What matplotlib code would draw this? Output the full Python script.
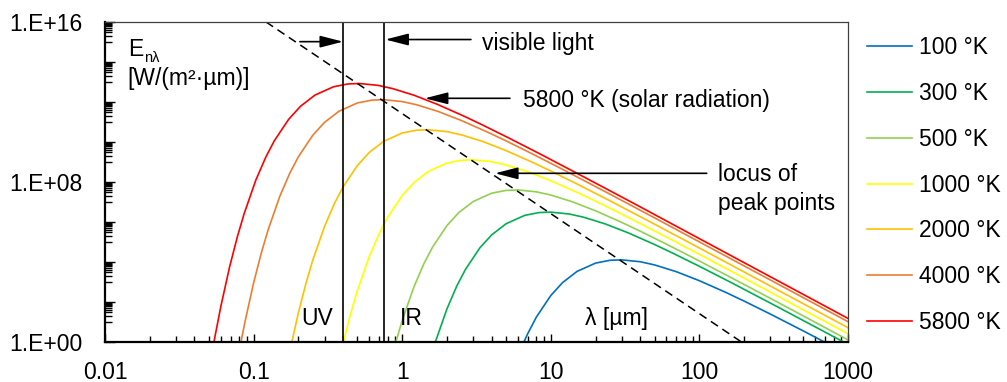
import numpy as np
import matplotlib
matplotlib.use("Agg")
import matplotlib.pyplot as plt
from matplotlib.ticker import LogLocator, NullFormatter, FixedLocator

plt.rcParams['font.family'] = ['Liberation Sans', 'DejaVu Sans']

# ---------------- data ----------------
temps = ['100 °K', '300 °K', '500 °K', '1000 °K', '2000 °K', '4000 °K', '5800 °K']
colors = ['#0070C0', '#00B050', '#92D050', '#FFFF00', '#FFC000', '#ED7D31', '#FF0000']

lam_100 = [6.59, 7.0, 8.0, 10, 12, 15, 20, 25, 30, 40, 50, 70, 100, 150, 200, 300, 500, 1000]
E_100 = [1.0, 2.64, 17.7, 211, 933, 3.37e3, 8.79e3, 1.22e4, 1.28e4, 1.03e4, 7.13e3, 3.27e3,
         1.16e3, 306, 111, 25.0, 3.59, 0.242]

lam_300 = [1.672, 2.0, 2.333, 2.667, 3.333, 4.0, 5.0, 6.667, 8.333, 10, 13.33, 16.67, 23.33,
           33.33, 50, 66.67, 100, 166.7, 333.3, 666.7, 1000]
E_300 = [1.0, 45.1, 643, 4.30e3, 5.13e4, 2.27e5, 8.18e5, 2.14e6, 2.96e6, 3.12e6, 2.51e6, 1.73e6,
         7.96e5, 2.83e5, 7.45e4, 2.70e4, 6.08e3, 873, 58.7, 3.81, 0.762]

lam_500 = [0.9064, 1.0, 1.2, 1.4, 1.6, 2.0, 2.4, 3.0, 4.0, 5.0, 6.0, 8.0, 10, 14, 20, 30, 40, 60,
           100, 200, 400, 1000]
E_500 = [1.0, 11.9, 579, 8.26e3, 5.52e4, 6.59e5, 2.92e6, 1.05e7, 2.75e7, 3.80e7, 4.01e7, 3.22e7,
         2.23e7, 1.02e7, 3.64e6, 9.57e5, 3.47e5, 7.82e4, 1.12e4, 755, 49.0, 1.28]

lam_1000 = [0.4017, 0.45, 0.5, 0.6, 0.7, 0.8, 1.0, 1.2, 1.5, 2, 2.5, 3, 4, 5, 7, 10, 15, 20, 30,
            50, 100, 200, 1000]
E_1000 = [1.0, 26.4, 381, 1.85e4, 2.64e5, 1.77e6, 2.11e7, 9.33e7, 3.37e8, 8.79e8, 1.22e9, 1.28e9,
          1.03e9, 7.13e8, 3.27e8, 1.16e8, 3.06e7, 1.11e7, 2.50e6, 3.59e5, 2.42e4, 1.57e3, 2.58]

lam_2000 = [0.1808, 0.2, 0.225, 0.25, 0.3, 0.35, 0.4, 0.5, 0.6, 0.75, 1.0, 1.25, 1.5, 2.0, 2.5,
            3.5, 5.0, 7.5, 10, 15, 25, 50, 100, 1000]
E_2000 = [1.0, 28.0, 843, 1.22e4, 5.93e5, 8.45e6, 5.65e7, 6.75e8, 2.99e9, 1.08e10, 2.81e10,
          3.89e10, 4.10e10, 3.30e10, 2.28e10, 1.05e10, 3.72e9, 9.79e8, 3.55e8, 8.00e7, 1.15e7,
          7.73e5, 5.01e4, 5.19]

lam_4000 = [0.08225, 0.0875, 0.1, 0.1125, 0.125, 0.15, 0.175, 0.2, 0.25, 0.3, 0.375, 0.5, 0.625,
            0.75, 1.0, 1.25, 1.75, 2.5, 3.75, 5.0, 7.5, 12.5, 25, 50, 1000]
E_4000 = [1.0, 10.2, 895, 2.70e4, 3.90e5, 1.90e7, 2.70e8, 1.81e9, 2.16e10, 9.55e10, 3.44e11,
          9.00e11, 1.24e12, 1.31e12, 1.05e12, 7.29e11, 3.35e11, 1.19e11, 3.13e10, 1.14e10,
          2.56e9, 3.67e8, 2.47e7, 1.60e6, 10.4]

lam_5800 = [0.05414, 0.05517, 0.06034, 0.06897, 0.07759, 0.08621, 0.1034, 0.1207, 0.1379, 0.1724,
            0.2069, 0.2586, 0.3448, 0.4310, 0.5172, 0.6897, 0.8621, 1.207, 1.724, 2.586, 3.448,
            5.172, 8.621, 17.24, 34.48, 1000]
E_5800 = [1.0, 2.17, 65.6, 5.74e3, 1.73e5, 2.50e6, 1.22e8, 1.73e9, 1.16e10, 1.38e11, 6.12e11,
          2.21e12, 5.77e12, 7.98e12, 8.41e12, 6.76e12, 4.68e12, 2.15e12, 7.64e11, 2.01e11,
          7.28e10, 1.64e10, 2.36e9, 1.58e8, 1.03e7, 15.1]

locus_lam = [0.1213, 192]
locus_E = [1e16, 1.0]
visible_bounds = [0.40, 0.76]

x_ticks = [0.01, 0.1, 1, 10, 100, 1000]
x_tick_labels = ['0.01', '0.1', '1', '10', '100', '1000']
y_ticks = [1e0, 1e8, 1e16]
y_tick_labels = ['1.E+00', '1.E+08', '1.E+16']

series_lam = [lam_100, lam_300, lam_500, lam_1000, lam_2000, lam_4000, lam_5800]
series_E = [E_100, E_300, E_500, E_1000, E_2000, E_4000, E_5800]

# ---------------- figure ----------------
W, H = 1007, 382
FS = 16.5
fig = plt.figure(figsize=(W / 100, H / 100), dpi=100)
ax = fig.add_axes([105 / W, 1 - 342 / H, 743 / W, 320 / H])
ax.set_xscale('log')
ax.set_yscale('log')

handles = []
for lam, E, lab, c in zip(series_lam, series_E, temps, colors):
    h, = ax.plot(lam, E, color=c, lw=1.2, label=lab, solid_joinstyle='round')
    handles.append(h)

ax.plot(locus_lam, locus_E, color='black', lw=1.1, dashes=(5.5, 3.5))
for xv in visible_bounds:
    ax.axvline(xv, color='black', lw=1.2)

ax.set_xlim(0.01, 1000)
ax.set_ylim(1, 1e16)
ax.set_xticks(x_ticks)
ax.set_xticklabels(x_tick_labels)
ax.xaxis.set_minor_locator(LogLocator(base=10, subs=np.arange(2, 10), numticks=100))
ax.xaxis.set_minor_formatter(NullFormatter())

# y axis: tick marks every two decades, labels only at 1E+00, 1E+08, 1E+16
y_major_pos = [10.0 ** e for e in range(0, 17, 2)]
y_major_lab = [y_tick_labels[y_ticks.index(v)] if v in y_ticks else '' for v in y_major_pos]
ax.set_yticks(y_major_pos)
ax.set_yticklabels(y_major_lab)
y_minor_pos = [k * 10.0 ** e for e in range(1, 16, 2) for k in range(1, 10)]
ax.yaxis.set_minor_locator(FixedLocator(y_minor_pos))
ax.yaxis.set_minor_formatter(NullFormatter())

ax.tick_params(axis='both', which='both', direction='in', width=1, colors='black',
               labelsize=FS)
ax.tick_params(axis='x', which='major', length=6)
ax.tick_params(axis='x', which='minor', length=4)
ax.tick_params(axis='y', which='major', length=7)
ax.tick_params(axis='y', which='minor', length=5)
ax.tick_params(axis='y', which='major', pad=16.5)
ax.tick_params(axis='x', which='major', pad=13.5)

for s in ['left', 'bottom']:
    ax.spines[s].set_linewidth(1.6)
    ax.spines[s].set_color('black')
for s in ['top', 'right']:
    ax.spines[s].set_linewidth(0.9)
    ax.spines[s].set_color('#404040')

tr = ax.transAxes
ax.text(0.031, 0.9156, 'E', transform=tr, fontsize=FS, ha='left', va='center')
ax.text(0.0525, 0.888, 'nλ', transform=tr, fontsize=10.5, ha='left', va='center')
ax.text(0.0306, 0.8234, '[W/(m²·µm)]', transform=tr, fontsize=FS, ha='left', va='center')
ax.text(0.5074, 0.934, 'visible light', transform=tr, fontsize=FS, ha='left', va='center')
ax.text(0.5622, 0.756, '5800 °K (solar radiation)', transform=tr, fontsize=FS,
        ha='left', va='center')
ax.text(0.825, 0.522, 'locus of', transform=tr, fontsize=FS, ha='left', va='center')
ax.text(0.825, 0.434, 'peak points', transform=tr, fontsize=FS, ha='left', va='center')
ax.text(0.2646, 0.072, 'UV', transform=tr, fontsize=FS, ha='left', va='center')
ax.text(0.397, 0.072, 'IR', transform=tr, fontsize=FS, ha='left', va='center')
ax.text(0.646, 0.072, 'λ [µm]', transform=tr, fontsize=FS, ha='left', va='center')

ap = dict(arrowstyle='-|>,head_length=1.4,head_width=0.36', mutation_scale=10, lw=1.2,
          color='black', shrinkA=0, shrinkB=0)
ax.annotate('', xy=(0.40, 1.04e15), xytext=(0.205, 1.04e15), arrowprops=ap)
ax.annotate('', xy=(0.77, 1.33e15), xytext=(2.90, 1.33e15), arrowprops=ap)
ax.annotate('', xy=(1.42, 1.53e12), xytext=(5.31, 1.53e12), arrowprops=ap)
ax.annotate('', xy=(4.21, 2.72e8), xytext=(112, 2.72e8), arrowprops=ap)

fig.legend(handles, temps, loc='upper left', bbox_to_anchor=(867 / W, 1 - 36.5 / H),
           frameon=False, borderaxespad=0, borderpad=0, handlelength=1.97,
           handletextpad=0.3, labelspacing=0.99, fontsize=FS)

fig.savefig('out.png', dpi=100)
